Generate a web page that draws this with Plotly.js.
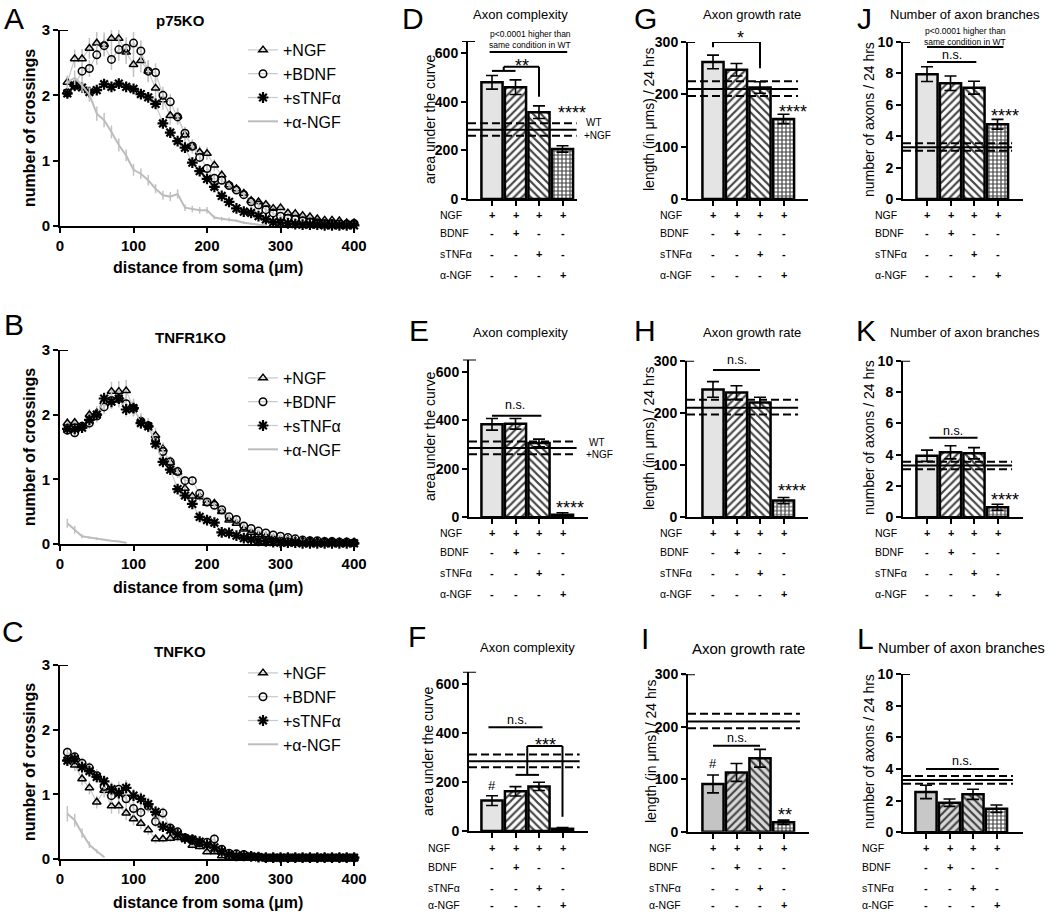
<!DOCTYPE html>
<html>
<head>
<meta charset="utf-8">
<script src="https://cdn.plot.ly/plotly-3.0.1.min.js"></script>
<style>
html,body{margin:0;padding:0;background:#fff;}
#chart{width:1050px;height:913px;}
</style>
</head>
<body>
<div id="chart"></div>
<script>
// ================= DATA =================
const distance = [10,20,30,40,50,60,70,80,90,100,110,120,130,140,150,160,170,180,190,200,210,220,230,240,250,260,270,280,290,300,310,320,330,340,350,360,370,380,390,400];

// ---- Panel A: p75KO Sholl ----
const p75_NGF = [2.20,2.56,2.56,2.72,2.80,2.78,2.87,2.87,2.66,2.47,2.53,2.37,2.11,1.93,1.69,1.68,1.39,1.22,1.13,1.11,0.93,0.78,0.63,0.57,0.50,0.39,0.37,0.33,0.27,0.28,0.20,0.19,0.16,0.14,0.11,0.09,0.09,0.08,0.05,0.05];
const p75_NGF_err = [0.10,0.14,0.15,0.16,0.17,0.18,0.18,0.18,0.18,0.19,0.18,0.17,0.16,0.15,0.14,0.13,0.12,0.11,0.10,0.10,0.09,0.08,0.07,0.06,0.06,0.05,0.05,0.05,0.04,0.04,0.04,0.04,0.03,0.03,0.03,0.03,0.03,0.02,0.02,0.02];
const p75_BDNF = [2.04,2.15,2.37,2.41,2.62,2.76,2.55,2.70,2.72,2.80,2.68,2.37,2.35,2.00,1.90,1.67,1.42,1.22,1.05,0.88,0.73,0.70,0.62,0.55,0.48,0.37,0.32,0.25,0.20,0.15,0.12,0.10,0.08,0.06,0.05,0.04,0.04,0.03,0.03,0.04];
const p75_BDNF_err = [0.08,0.10,0.12,0.13,0.15,0.16,0.16,0.17,0.17,0.17,0.16,0.15,0.14,0.13,0.12,0.11,0.10,0.09,0.08,0.07,0.07,0.06,0.06,0.05,0.05,0.04,0.04,0.04,0.03,0.03,0.03,0.02,0.02,0.02,0.02,0.02,0.02,0.01,0.01,0.01];
const p75_sTNF = [2.03,2.15,2.12,2.05,2.08,2.17,2.13,2.18,2.13,2.10,2.02,1.97,1.87,1.57,1.43,1.30,1.20,0.97,0.84,0.72,0.60,0.46,0.37,0.27,0.22,0.20,0.15,0.10,0.06,0.05,0.04,0.03,0.02,0.02,0.02,0.01,0.01,0.01,0.01,0.01];
const p75_sTNF_err = [0.06,0.06,0.06,0.06,0.07,0.07,0.07,0.07,0.07,0.07,0.07,0.07,0.06,0.06,0.06,0.06,0.05,0.05,0.05,0.04,0.04,0.04,0.03,0.03,0.03,0.03,0.02,0.02,0.02,0.02,0.01,0.01,0.01,0.01,0.01,0.01,0.01,0.01,0.01,0.01];
const p75_aNGF = [2.20,2.27,2.15,2.01,1.72,1.62,1.44,1.24,1.08,0.86,0.80,0.70,0.57,0.47,0.45,0.49,0.28,0.26,0.24,0.24,0.13,0.11,0.10,0.08,0.05,0.03,0.02,0.01];
const p75_aNGF_err = [0.10,0.11,0.11,0.11,0.11,0.11,0.10,0.10,0.09,0.09,0.08,0.08,0.07,0.07,0.07,0.07,0.05,0.05,0.05,0.05,0.03,0.03,0.03,0.02,0.02,0.01,0.01,0.01];

// ---- Panel B: TNFR1KO Sholl ----
const r1_NGF = [1.87,1.88,1.82,2.00,2.03,2.20,2.36,2.36,2.37,2.11,1.90,1.84,1.68,1.47,1.26,1.11,0.86,0.74,0.73,0.63,0.63,0.50,0.37,0.32,0.23,0.18,0.14,0.12,0.09,0.07,0.07,0.05,0.05,0.05,0.04,0.04,0.04,0.03,0.03,0.03];
const r1_NGF_err = [0.07,0.07,0.08,0.09,0.10,0.11,0.15,0.16,0.17,0.14,0.12,0.11,0.11,0.10,0.10,0.09,0.08,0.07,0.07,0.06,0.06,0.05,0.05,0.04,0.04,0.03,0.03,0.03,0.02,0.02,0.02,0.02,0.02,0.02,0.01,0.01,0.01,0.01,0.01,0.01];
const r1_BDNF = [1.76,1.72,1.82,1.87,1.98,2.12,2.22,2.25,2.17,2.10,1.90,1.83,1.60,1.43,1.27,1.12,0.98,0.98,0.78,0.65,0.60,0.53,0.42,0.38,0.28,0.24,0.20,0.17,0.14,0.12,0.10,0.08,0.06,0.05,0.05,0.04,0.04,0.03,0.03,0.02];
const r1_BDNF_err = [0.07,0.07,0.08,0.09,0.10,0.11,0.13,0.14,0.14,0.12,0.11,0.10,0.10,0.09,0.09,0.08,0.07,0.07,0.06,0.06,0.05,0.05,0.04,0.04,0.04,0.03,0.03,0.03,0.02,0.02,0.02,0.02,0.02,0.01,0.01,0.01,0.01,0.01,0.01,0.01];
const r1_sTNF = [1.78,1.78,1.80,1.92,2.00,2.25,2.20,2.25,2.08,2.10,1.87,1.82,1.55,1.27,1.15,0.85,0.75,0.62,0.42,0.37,0.33,0.18,0.17,0.13,0.09,0.07,0.05,0.04,0.03,0.02,0.02,0.02,0.01,0.01,0.01,0.01,0.01,0.01,0.01,0.01];
const r1_sTNF_err = [0.06,0.06,0.07,0.08,0.09,0.10,0.11,0.12,0.11,0.10,0.09,0.09,0.08,0.08,0.07,0.07,0.06,0.05,0.04,0.04,0.04,0.03,0.03,0.02,0.02,0.02,0.01,0.01,0.01,0.01,0.01,0.01,0.01,0.01,0.01,0.01,0.01,0.01,0.01,0.01];
const r1_aNGF = [0.32,0.22,0.12,0.10,0.08,0.06,0.05,0.04,0.02];
const r1_aNGF_err = [0.07,0.06,0.03,0.02,0.02,0.01,0.01,0.01,0.01];

// ---- Panel C: TNFKO Sholl ----
const tnf_NGF = [1.55,1.45,1.24,1.10,0.88,1.06,0.82,0.82,0.71,0.62,0.55,0.45,0.31,0.31,0.32,0.33,0.32,0.21,0.19,0.11,0.11,0.05,0.03,0.02,0.02,0.01,0.01,0.01,0.01,0.01,0.01,0.01,0.01,0.01,0.01,0.01,0.01,0.01,0.01,0.01];
const tnf_NGF_err = [0.08,0.09,0.10,0.10,0.10,0.11,0.12,0.12,0.11,0.10,0.09,0.08,0.07,0.06,0.06,0.06,0.06,0.05,0.05,0.04,0.04,0.03,0.02,0.02,0.01,0.01,0.01,0.01,0.01,0.01,0.01,0.01,0.01,0.01,0.01,0.01,0.01,0.01,0.01,0.01];
const tnf_BDNF = [1.65,1.58,1.48,1.41,1.29,1.12,0.98,1.08,0.93,0.78,0.72,0.82,0.58,0.71,0.48,0.42,0.33,0.30,0.25,0.26,0.31,0.15,0.09,0.08,0.07,0.04,0.03,0.02,0.02,0.02,0.02,0.02,0.02,0.02,0.02,0.02,0.02,0.02,0.02,0.02];
const tnf_BDNF_err = [0.08,0.08,0.09,0.09,0.10,0.11,0.11,0.12,0.12,0.11,0.10,0.10,0.09,0.09,0.08,0.07,0.06,0.06,0.05,0.06,0.08,0.04,0.03,0.02,0.02,0.02,0.01,0.01,0.01,0.01,0.01,0.01,0.01,0.01,0.01,0.01,0.01,0.01,0.01,0.01];
const tnf_sTNF = [1.52,1.55,1.42,1.36,1.27,1.20,1.08,1.02,1.10,0.98,0.93,0.85,0.73,0.50,0.45,0.38,0.32,0.30,0.27,0.22,0.18,0.12,0.07,0.05,0.05,0.04,0.03,0.02,0.02,0.02,0.02,0.02,0.02,0.02,0.02,0.02,0.02,0.02,0.02,0.02];
const tnf_sTNF_err = [0.07,0.08,0.08,0.09,0.10,0.10,0.11,0.11,0.12,0.11,0.11,0.10,0.09,0.07,0.06,0.06,0.05,0.05,0.05,0.04,0.04,0.03,0.02,0.02,0.02,0.01,0.01,0.01,0.01,0.01,0.01,0.01,0.01,0.01,0.01,0.01,0.01,0.01,0.01,0.01];
const tnf_aNGF = [0.70,0.60,0.40,0.22,0.12,0.03];
const tnf_aNGF_err = [0.12,0.10,0.07,0.05,0.03,0.01];

// ---- Bar charts (order: +NGF, +BDNF, +sTNFα, +α-NGF) ----
const barIndex = [0,1,2,3];
const aucP75 = [480,460,357,206],   aucP75Err = [28,30,26,13];
const aucR1  = [383,385,306,10],    aucR1Err  = [24,22,16,9];
const aucTNF = [124,162,182,9],     aucTNFErr = [20,19,17,5];
const rateP75 = [262,247,213,153],  rateP75Err = [13,12,11,9];
const rateR1  = [245,239,220,32],   rateR1Err  = [15,13,10,6];
const rateTNF = [91,113,140,18],    rateTNFErr = [17,17,17,4];
const brP75 = [7.95,7.37,7.09,4.76], brP75Err = [0.47,0.46,0.41,0.31];
const brR1  = [3.93,4.15,4.09,0.64], brR1Err  = [0.36,0.42,0.36,0.19];
const brTNF = [2.55,1.87,2.40,1.49], brTNFErr = [0.42,0.23,0.32,0.23];

// WT +NGF reference (mean, mean-SEM, mean+SEM)
const wtAUC  = [285,260,312];
const wtRate = [210,197,225];
const wtBr   = [3.30,3.07,3.55];

// Table rows
const rowLabels = ['NGF','BDNF','sTNF\u03b1','\u03b1-NGF'];
const rowSigns = [['+','+','+','+'],['-','+','-','-'],['-','-','+','-'],['-','-','-','+']];

// ================= LAYOUT HELPERS =================
const W = 1050, H = 913;
const FONT = "'Liberation Sans', Arial, sans-serif";
const data = [], shapes = [], ann = [];
const layout = {width:W, height:H, margin:{l:0,r:0,t:0,b:0}, paper_bgcolor:'#fff', plot_bgcolor:'rgba(0,0,0,0)', showlegend:true};
const xr = n => 'x' + (n===1?'':n);
const yr = n => 'y' + (n===1?'':n);
const xk = n => 'xaxis' + (n===1?'':n);
const yk = n => 'yaxis' + (n===1?'':n);
function T(x, y, text, size, o){
  ann.push(Object.assign({xref:'paper', yref:'paper', x:x/W, y:1-y/H, text:text, showarrow:false,
    xanchor:'center', yanchor:'middle', font:{family:FONT, size:size, color:'#000'}}, o||{}));
}
function seg(n, x0, y0, x1, y1, w, dash){
  shapes.push({type:'line', xref:xr(n), yref:yr(n), x0:x0, y0:y0, x1:x1, y1:y1, layer:'above',
    line:{color:'#000', width:w||2, dash:dash||'solid'}});
}
const axBase = {showline:true, linewidth:2, linecolor:'#000', ticks:'outside', ticklen:5, tickwidth:2, tickcolor:'#000',
  showgrid:false, zeroline:false, fixedrange:true};

// ================= SHOLL PANELS =================
const shollPanels = [
  {n:1, top:30, zero:226, leg:'legend', legTop:33, title:'p75KO', tx:180, ty:20, xt:268, yt:128, letter:'A', lx:14, ly:18,
   s:[[p75_NGF,p75_NGF_err],[p75_BDNF,p75_BDNF_err],[p75_sTNF,p75_sTNF_err],[p75_aNGF,p75_aNGF_err]]},
  {n:2, top:350, zero:544, leg:'legend2', legTop:361, title:'TNFR1KO', tx:190, ty:337, xt:587, yt:447, letter:'B', lx:14, ly:324,
   s:[[r1_NGF,r1_NGF_err],[r1_BDNF,r1_BDNF_err],[r1_sTNF,r1_sTNF_err],[r1_aNGF,r1_aNGF_err]]},
  {n:3, top:665, zero:859, leg:'legend3', legTop:656, title:'TNFKO', tx:180, ty:651, xt:902, yt:762, letter:'C', lx:13, ly:631,
   s:[[tnf_NGF,tnf_NGF_err],[tnf_BDNF,tnf_BDNF_err],[tnf_sTNF,tnf_sTNF_err],[tnf_aNGF,tnf_aNGF_err]]}
];
const seriesNames = ['+NGF','+BDNF','+sTNF\u03b1','+\u03b1-NGF'];
const seriesSym = ['triangle-up-open','circle-open','asterisk-open',null];
shollPanels.forEach(p=>{
  const n = p.n;
  layout[xk(n)] = Object.assign({}, axBase, {domain:[60/W, 357/W], range:[0,404], anchor:yr(n),
    tickvals:[0,100,200,300,400], tickfont:{family:FONT, size:15, weight:'bold', color:'#000'}});
  layout[yk(n)] = Object.assign({}, axBase, {domain:[1-p.zero/H, 1-p.top/H], range:[0,3], anchor:xr(n),
    tickvals:[0,1,2,3], tickfont:{family:FONT, size:15, weight:'bold', color:'#000'}});
  p.s.forEach((ser, i)=>{
    const tr = {type:'scatter', x:distance.slice(0, ser[0].length), y:ser[0], xaxis:xr(n), yaxis:yr(n),
      name:seriesNames[i], legend:p.leg, cliponaxis:false,
      error_y:{type:'data', array:ser[1], visible:true, color:'#c2c2c2', thickness:1.5, width:0}};
    if (seriesSym[i]) {
      tr.mode = 'lines+markers';
      tr.line = {color:'#c8c8c8', width:1.2};
      tr.marker = {symbol:seriesSym[i], size: i===2?9:7.5, color:'#000', line:{color:'#000', width: i===2?2.2:1.5}};
    } else {
      tr.mode = 'lines';
      tr.line = {color:'#bdbdbd', width:2};
    }
    data.push(tr);
  });
  layout[p.leg] = {x:243/W, y:1-p.legTop/H, xanchor:'left', yanchor:'top', bgcolor:'rgba(0,0,0,0)',
    font:{family:FONT, size:16, color:'#000'}, traceorder:'normal', itemwidth:30};
  // top tick
  shapes.push({type:'line', xref:'paper', yref:yr(n), x0:56/W, x1:68/W, y0:3, y1:3, line:{color:'#000', width:2}});
  T(p.tx, p.ty, '<b>'+p.title+'</b>', 15);
  T(208, p.xt, '<b>distance from soma (\u03bcm)</b>', 16);
  T(29, p.yt, '<b>number of crossings</b>', 16, {textangle:-90});
  T(p.lx, p.ly, p.letter, 30);
});

// ================= BAR PANELS =================
const S = 23.5; // px between bar centres
const bgStd = ['#e4e4e4','#ffffff','#ffffff','#ffffff'];
const barPanels = [
  {n:4, L:'D', ax:468, c1:492, end:577, top:41, zero:199, ymax:650, tv:[0,200,400,600], v:aucP75, e:aucP75Err, wt:wtAUC, wtEnd:3.6, bg:bgStd,
   title:'Axon complexity', tx:520, ty:14, ts:13, yl:'area under the curve', ylx:430, yly:120, lx:413, ly:18,
   rows:[215,233,254,275], labX:438},
  {n:5, L:'E', ax:469, c1:492, end:588, top:359.5, zero:517.3, ymax:650, tv:[0,200,400,600], v:aucR1, e:aucR1Err, wt:wtAUC, wtEnd:3.6, bg:bgStd,
   title:'Axon complexity', tx:520, ty:332, ts:13, yl:'area under the curve', ylx:430, yly:437, lx:419, ly:330,
   rows:[533,552,573,594], labX:438},
  {n:6, L:'F', ax:469, c1:492, end:588, top:671.7, zero:831, ymax:650, tv:[0,200,400,600], v:aucTNF, e:aucTNFErr, wt:wtAUC, wtEnd:3.73, bg:bgStd,
   title:'Axon complexity', tx:527, ty:647, ts:13, yl:'area under the curve', ylx:428, yly:752, lx:417, ly:636,
   rows:[848,867,888,905], labX:426},
  {n:7, L:'G', ax:688, c1:713, end:808, top:42, zero:199, ymax:300, tv:[0,100,200,300], v:rateP75, e:rateP75Err, wt:wtRate, wtEnd:3.62, bg:bgStd,
   title:'Axon growth rate', tx:752, ty:14, ts:13, yl:'length (in \u03bcms) / 24 hrs', ylx:649, yly:120, lx:645, ly:19,
   rows:[215,233,254,275], labX:658},
  {n:8, L:'H', ax:687, c1:713, end:808, top:360.7, zero:517.3, ymax:300, tv:[0,100,200,300], v:rateR1, e:rateR1Err, wt:wtRate, wtEnd:3.62, bg:bgStd,
   title:'Axon growth rate', tx:752, ty:332, ts:13, yl:'length (in \u03bcms) / 24 hrs', ylx:649, yly:439, lx:645, ly:330,
   rows:[533,552,573,594], labX:658},
  {n:9, L:'I', ax:688, c1:713, end:809, top:674.3, zero:831.7, ymax:300, tv:[0,100,200,300], v:rateTNF, e:rateTNFErr, wt:wtRate, wtEnd:3.7,
   bg:['#c4c4c4','#d9d9d9','#d9d9d9','#ffffff'],
   title:'Axon growth rate', tx:748, ty:648, ts:15, yl:'length (in \u03bcms) / 24 hrs', ylx:651, yly:752, lx:645, ly:638,
   rows:[848,867,888,905], labX:647},
  {n:10, L:'J', ax:903, c1:927, end:1023, top:42, zero:199, ymax:10, tv:[0,2,4,6,8,10], v:brP75, e:brP75Err, wt:wtBr, wtEnd:3.62, bg:bgStd,
   title:'Number of axon branches', tx:965, ty:14, ts:13, yl:'number of axons / 24 hrs', ylx:869, yly:120, lx:864, ly:18,
   rows:[215,233,254,275], labX:873},
  {n:11, L:'K', ax:903, c1:927, end:1023, top:360.7, zero:517.3, ymax:10, tv:[0,2,4,6,8,10], v:brR1, e:brR1Err, wt:wtBr, wtEnd:3.62, bg:bgStd,
   title:'Number of axon branches', tx:965, ty:332, ts:13, yl:'number of axons / 24 hrs', ylx:869, yly:438, lx:866, ly:330,
   rows:[533,552,573,594], labX:873},
  {n:12, L:'L', ax:903, c1:926, end:1023, top:674, zero:832.3, ymax:10, tv:[0,2,4,6,8,10], v:brTNF, e:brTNFErr, wt:wtBr, wtEnd:3.7,
   bg:['#c8c8c8','#d9d9d9','#d9d9d9','#ffffff'],
   title:'Number of axon branches', tx:961, ty:648, ts:14.5, yl:'number of axons / 24 hrs', ylx:869, yly:752, lx:865, ly:638,
   rows:[848,867,888,905], labX:860}
];
barPanels.forEach(p=>{
  const n = p.n;
  const x0 = (p.ax - p.c1)/S, x1 = (p.end - p.c1)/S;
  layout[xk(n)] = Object.assign({}, axBase, {domain:[p.ax/W, p.end/W], range:[x0, x1], anchor:yr(n),
    tickvals:barIndex, showticklabels:false});
  layout[yk(n)] = Object.assign({}, axBase, {domain:[1-p.zero/H, 1-p.top/H], range:[0, p.ymax], anchor:xr(n),
    tickvals:p.tv, tickfont:{family:FONT, size:14, weight:'bold', color:'#000'}});
  data.push({type:'bar', x:barIndex, y:p.v, width:0.9, xaxis:xr(n), yaxis:yr(n), showlegend:false, cliponaxis:false,
    marker:{color:p.bg, line:{color:'#000', width:2.5},
      pattern:{shape:['','/','\\','+'], fgcolor:['#000000','#000000','#000000','#000000'], fgopacity:1,
               size:[5,5.5,5.5,4], solidity:[0.3,0.4,0.4,0.5], fillmode:'overlay'}},
    error_y:{type:'data', array:p.e, visible:true, color:'#000', thickness:1.6, width:6}});
  // WT reference lines
  seg(n, x0, p.wt[0], p.wtEnd, p.wt[0], 2);
  seg(n, x0, p.wt[1], p.wtEnd, p.wt[1], 2, '8px,4px');
  seg(n, x0, p.wt[2], p.wtEnd, p.wt[2], 2, '8px,4px');
  // top tick
  shapes.push({type:'line', xref:'paper', yref:yr(n), x0:(p.ax-6)/W, x1:(p.ax+7)/W, y0:p.ymax, y1:p.ymax, line:{color:'#000', width:2}});
  T(p.tx, p.ty, p.title, p.ts);
  T(p.ylx, p.yly, p.yl, 14, {textangle:-90});
  T(p.lx, p.ly, p.L, 30);
  rowLabels.forEach((lab, r)=>{
    T(p.labX, p.rows[r], lab, 10.5, {xanchor:'left'});
    rowSigns[r].forEach((s, c)=>{
      ann.push({xref:xr(n), yref:'paper', x:barIndex[c], y:1-p.rows[r]/H, text:'<b>'+s+'</b>', showarrow:false,
        xanchor:'center', yanchor:'middle', font:{family:FONT, size:11, color:'#000'}});
    });
  });
});

// ================= SIGNIFICANCE MARKS =================
// D
seg(4, -0.1, 605, 3.2, 605);
seg(4, 0, 527, 1, 527); seg(4, 0.5, 527, 0.5, 544); seg(4, 0.5, 544, 2, 544); seg(4, 2, 544, 2, 421);
T(530, 34, 'p&lt;0.0001 higher than', 8.5); T(530, 45, 'same condition in WT', 8.5);
T(522, 66, '**', 18); T(572, 113, '****', 18);
T(594, 123, 'WT', 10); T(597, 135, '+NGF', 10);
// E
seg(5, 0, 418, 2.1, 418);
T(515, 405, 'n.s.', 12.5); T(570, 508, '****', 18);
T(597, 442, 'WT', 10); T(599, 454, '+NGF', 10);
// F
seg(6, -0.15, 423, 2.15, 423);
seg(6, 1, 229, 2, 229); seg(6, 1.5, 229, 1.5, 347); seg(6, 1.5, 347, 3, 347); seg(6, 3, 347, 3, 58);
T(492, 785, '#', 13); T(517, 720, 'n.s.', 12.5); T(545, 745, '***', 18);
// G
seg(7, 0, 300, 2, 300); seg(7, 0, 300, 0, 290); seg(7, 2, 300, 2, 250);
T(740, 38, '*', 18); T(793, 112, '****', 18);
// H
seg(8, 0, 282, 2, 282);
T(737, 360, 'n.s.', 12.5); T(792, 491, '****', 18);
// I
seg(9, 0, 164, 2, 164);
T(713, 763, '#', 13); T(737, 738, 'n.s.', 12.5); T(785, 815, '**', 18);
// J
seg(10, 0, 9.68, 3.25, 9.68); seg(10, 0, 8.73, 2.1, 8.73);
T(965, 31, 'p&lt;0.0001 higher than', 8.5); T(965, 42, 'same condition in WT', 8.5);
T(952, 55, 'n.s.', 12.5); T(1005, 116, '****', 18);
// K
seg(11, 0.1, 5.08, 2.15, 5.08);
T(953, 431, 'n.s.', 12.5); T(1005, 500, '****', 18);
// L
seg(12, 0, 4.0, 3.1, 4.0);
T(962, 761, 'n.s.', 12.5);

layout.shapes = shapes;
layout.annotations = ann;
Plotly.newPlot('chart', data, layout, {staticPlot:true, displayModeBar:false});
</script>
</body>
</html>
